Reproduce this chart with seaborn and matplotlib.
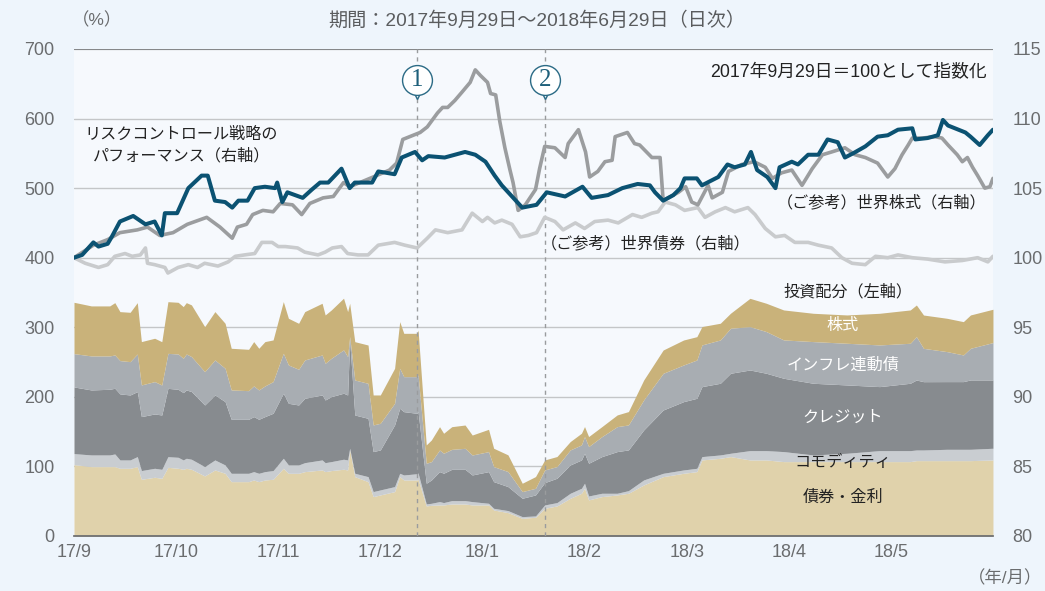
import matplotlib
matplotlib.use("Agg")
import matplotlib.pyplot as plt
import seaborn as sns

# x positions are in months after 2017-09-29 (0 = 17/9 tick, 9 = end of data)
strat_x = [0.00, 0.08, 0.19, 0.24, 0.33, 0.37, 0.45, 0.58, 0.70, 0.79, 0.86, 0.89, 1.01, 1.12, 1.25,
           1.31, 1.38, 1.48, 1.55, 1.61, 1.70, 1.77, 1.87, 1.97, 1.99, 2.04, 2.09, 2.24, 2.33, 2.41,
           2.49, 2.62, 2.70, 2.75, 2.85, 2.92, 2.98, 3.14, 3.21, 3.34, 3.41, 3.47, 3.63, 3.83, 3.93,
           4.03, 4.12, 4.19, 4.39, 4.53, 4.63, 4.81, 4.98, 5.07, 5.23, 5.37, 5.52, 5.64, 5.69, 5.77,
           5.87, 5.94, 5.98, 6.10, 6.15, 6.31, 6.40, 6.47, 6.57, 6.63, 6.69, 6.79, 6.87, 6.91, 7.03,
           7.09, 7.19, 7.29, 7.38, 7.48, 7.55, 7.63, 7.75, 7.87, 7.97, 8.07, 8.21, 8.24, 8.36, 8.46,
           8.51, 8.56, 8.73, 8.78, 8.87, 8.95, 9.00]
strat_y = [100.0, 100.2, 101.1, 100.8, 101.0, 101.5, 102.6, 103.0, 102.4, 102.6, 101.6, 103.2, 103.2, 105.0, 105.9,
           105.9, 104.1, 104.0, 103.6, 104.1, 104.1, 105.0, 105.1, 105.0, 105.4, 104.0, 104.7, 104.3, 104.9, 105.4,
           105.4, 106.4, 105.0, 105.4, 105.4, 105.4, 106.2, 106.0, 107.2, 107.6, 107.0, 107.3, 107.2, 107.6, 107.4,
           106.9, 105.9, 105.2, 103.6, 103.8, 104.7, 104.4, 105.1, 104.3, 104.5, 105.0, 105.3, 105.2, 104.7, 104.1,
           104.5, 105.0, 105.7, 105.7, 105.2, 105.8, 106.7, 106.5, 106.7, 107.6, 106.3, 105.8, 105.0, 106.5, 106.9,
           106.7, 107.4, 107.4, 108.5, 108.3, 107.2, 107.5, 108.0, 108.7, 108.8, 109.2, 109.3, 108.5, 108.6, 108.8,
           109.9, 109.5, 109.0, 108.7, 108.1, 108.8, 109.2]

stock_x = [0.00, 0.19, 0.33, 0.45, 0.62, 0.72, 0.84, 0.97, 1.11, 1.30, 1.43, 1.55, 1.60, 1.69, 1.75,
           1.85, 1.95, 2.02, 2.14, 2.23, 2.31, 2.44, 2.54, 2.64, 2.70, 2.80, 2.93, 3.09, 3.16, 3.22,
           3.39, 3.46, 3.56, 3.61, 3.66, 3.73, 3.80, 3.88, 3.93, 3.98, 4.05, 4.08, 4.13, 4.17, 4.22,
           4.27, 4.30, 4.35, 4.42, 4.52, 4.56, 4.61, 4.71, 4.81, 4.84, 4.94, 5.01, 5.05, 5.13, 5.20,
           5.27, 5.30, 5.42, 5.49, 5.54, 5.66, 5.74, 5.77, 5.92, 5.99, 6.05, 6.11, 6.21, 6.25, 6.35,
           6.41, 6.54, 6.66, 6.77, 6.84, 6.93, 7.03, 7.13, 7.23, 7.33, 7.42, 7.55, 7.65, 7.75, 7.87,
           7.97, 8.04, 8.11, 8.17, 8.21, 8.31, 8.43, 8.50, 8.56, 8.65, 8.70, 8.75, 8.80, 8.85, 8.92,
           8.97, 9.00]
stock_y = [100.0, 100.9, 101.3, 101.8, 102.0, 102.2, 101.6, 101.8, 102.4, 102.9, 102.2, 101.4, 102.2, 102.4, 103.1,
           103.4, 103.3, 103.9, 103.8, 103.1, 103.9, 104.3, 104.4, 105.4, 105.1, 105.4, 105.8, 106.3, 106.8, 108.5,
           109.0, 109.4, 110.4, 110.8, 110.8, 111.3, 111.9, 112.6, 113.5, 113.1, 112.6, 111.8, 111.7, 109.8, 107.9,
           106.3, 105.4, 103.4, 103.8, 104.9, 106.4, 108.0, 107.9, 107.2, 108.2, 109.2, 107.6, 105.8, 106.2, 106.9,
           107.0, 108.7, 109.0, 108.2, 108.1, 107.2, 107.2, 104.1, 104.7, 105.1, 104.0, 103.8, 105.2, 104.3, 104.7,
           106.2, 106.7, 106.9, 106.5, 105.7, 106.1, 106.3, 105.2, 106.4, 107.4, 107.6, 107.9, 107.4, 107.2, 106.8,
           105.8, 106.4, 107.4, 108.1, 108.6, 108.6, 108.7, 108.6, 108.1, 107.4, 106.9, 107.2, 106.5, 105.9, 105.0,
           105.1, 105.7]

bond_x = [0.00, 0.11, 0.24, 0.33, 0.40, 0.50, 0.57, 0.65, 0.70, 0.72, 0.79, 0.89, 0.92, 1.02, 1.12,
          1.21, 1.28, 1.41, 1.51, 1.58, 1.67, 1.77, 1.84, 1.94, 2.00, 2.07, 2.19, 2.26, 2.39, 2.46,
          2.53, 2.62, 2.68, 2.78, 2.88, 2.98, 3.14, 3.24, 3.36, 3.46, 3.54, 3.66, 3.80, 3.90, 4.00,
          4.05, 4.12, 4.19, 4.29, 4.37, 4.45, 4.53, 4.61, 4.71, 4.79, 4.91, 5.00, 5.10, 5.23, 5.33,
          5.47, 5.56, 5.66, 5.72, 5.79, 5.89, 5.98, 6.11, 6.18, 6.28, 6.38, 6.47, 6.60, 6.67, 6.77,
          6.87, 6.96, 7.06, 7.19, 7.29, 7.42, 7.52, 7.62, 7.75, 7.85, 7.97, 8.07, 8.21, 8.36, 8.53,
          8.70, 8.85, 8.95, 9.00]
bond_y = [100.0, 99.6, 99.3, 99.5, 100.1, 100.3, 100.1, 100.2, 100.7, 99.6, 99.5, 99.3, 98.9, 99.3, 99.5,
          99.3, 99.6, 99.4, 99.7, 100.1, 100.2, 100.3, 101.1, 101.1, 100.8, 100.8, 100.7, 100.4, 100.2, 100.4,
          100.7, 100.8, 100.3, 100.2, 100.2, 100.9, 101.1, 100.9, 100.7, 101.4, 102.0, 101.8, 102.0, 103.2, 102.6,
          102.9, 102.5, 102.7, 102.4, 101.5, 101.6, 101.8, 102.9, 102.6, 102.0, 102.5, 102.1, 102.6, 102.7, 102.5,
          103.1, 102.9, 103.2, 103.3, 104.0, 103.8, 103.4, 103.6, 102.9, 103.3, 103.6, 103.3, 103.6, 103.1, 102.1,
          101.5, 101.6, 101.1, 101.1, 100.9, 100.7, 100.0, 99.6, 99.5, 100.1, 100.0, 100.2, 100.0, 99.9, 99.7,
          99.8, 100.0, 99.7, 100.1]

# allocation (%), left axis, stacked bottom to top
alloc_x = [0.00, 0.17, 0.35, 0.40, 0.45, 0.55, 0.62, 0.66, 0.79, 0.86, 0.92, 1.02, 1.07, 1.10, 1.15, 1.28, 1.38,
           1.48, 1.54, 1.71, 1.76, 1.81, 1.87, 1.95, 2.05, 2.10, 2.20, 2.26, 2.43, 2.46, 2.52, 2.64, 2.68,
           2.70, 2.75, 2.88, 2.93, 3.00, 3.14, 3.19, 3.23, 3.36, 3.37, 3.45, 3.50, 3.58, 3.62, 3.70, 3.83,
           3.90, 4.06, 4.11, 4.25, 4.39, 4.52, 4.61, 4.73, 4.86, 4.97, 5.00, 5.04, 5.17, 5.32, 5.43, 5.58,
           5.77, 5.97, 6.10, 6.15, 6.33, 6.43, 6.62, 6.78, 6.95, 7.24, 7.57, 7.89, 8.19, 8.25, 8.32, 8.55,
           8.71, 8.78, 9.00]
alloc_bond = [102.6, 99.7, 99.7, 99.7, 97.3, 97.3, 99.7, 81.5, 84.4, 82.9, 98.7, 97.3, 95.9, 97.3, 95.9, 86.3, 94.9,
              90.1, 78.1, 78.1, 80.5, 78.1, 80.5, 81.5, 97.3, 90.1, 90.1, 92.5, 94.9, 92.5, 94.0, 95.9, 94.9,
              123.7, 85.3, 78.1, 56.6, 59.0, 63.8, 85.3, 80.5, 80.5, 81.5, 43.2, 44.1, 44.6, 44.6, 46.0, 46.0,
              44.6, 44.6, 37.4, 33.6, 25.4, 26.9, 39.8, 43.2, 54.2, 61.4, 68.6, 51.8, 56.6, 59.0, 61.4, 73.4,
              85.3, 90.1, 92.5, 109.3, 111.7, 114.1, 109.3, 109.3, 106.9, 106.9, 106.9, 106.9, 106.9, 108.3, 108.3, 108.3,
              108.3, 108.3, 109.3]
alloc_comm = [15.8, 16.8, 16.8, 18.2, 12.0, 12.0, 14.4, 12.5, 12.9, 12.9, 15.3, 15.8, 13.4, 14.4, 14.4, 13.4, 14.4,
              12.0, 12.0, 12.0, 12.0, 12.0, 12.0, 12.5, 14.4, 12.0, 12.0, 12.9, 14.4, 12.9, 12.9, 14.4, 14.4,
              2.4, 4.8, 7.2, 7.2, 7.2, 7.2, 4.8, 7.2, 9.0, 9.0, 2.9, 2.9, 4.8, 3.4, 4.8, 4.8,
              4.8, 2.4, 2.4, 2.9, 2.4, 1.9, 4.8, 4.8, 7.2, 7.2, 7.2, 5.7, 4.8, 2.4, 3.8, 7.2,
              4.8, 4.8, 4.8, 4.8, 4.8, 4.8, 13.4, 13.4, 14.4, 9.6, 12.0, 15.8, 15.8, 15.3, 15.3, 16.3,
              16.3, 16.3, 16.8]
alloc_credit = [95.8, 93.4, 94.4, 94.4, 94.9, 93.4, 93.4, 77.6, 78.1, 78.1, 98.2, 97.7, 96.8, 98.2, 97.3, 88.6, 93.4,
                91.0, 77.6, 77.6, 79.1, 77.6, 79.1, 82.4, 93.4, 88.6, 86.2, 92.5, 93.4, 90.1, 93.4, 94.9, 93.4,
                155.7, 83.8, 83.8, 57.5, 57.5, 88.6, 93.4, 91.0, 86.8, 88.2, 29.7, 33.5, 43.1, 42.2, 45.0, 45.0,
                38.3, 45.5, 38.3, 34.5, 26.4, 30.2, 32.1, 35.0, 40.7, 40.7, 43.1, 47.0, 52.7, 59.9, 58.5, 71.9,
                91.0, 98.2, 100.6, 100.6, 103.0, 115.0, 115.9, 111.2, 105.4, 103.0, 98.2, 92.0, 96.8, 100.6, 98.2, 97.3,
                97.3, 99.7, 98.2]
alloc_infl = [47.9, 48.9, 47.9, 47.9, 47.9, 47.9, 54.1, 45.5, 46.5, 43.1, 50.3, 50.8, 49.3, 51.7, 50.3, 47.9, 50.3,
              47.9, 42.2, 41.2, 44.1, 42.2, 44.1, 45.5, 57.5, 55.1, 51.3, 55.1, 57.5, 52.7, 55.1, 62.3, 55.1,
              4.8, 50.3, 50.3, 38.3, 38.3, 31.1, 57.5, 50.3, 52.7, 52.7, 28.7, 26.4, 31.1, 28.7, 28.7, 30.2,
              28.7, 28.7, 21.6, 21.6, 9.6, 9.6, 18.2, 16.8, 21.6, 21.6, 24.0, 24.0, 28.7, 35.9, 35.9, 43.1,
              52.7, 52.7, 55.1, 59.9, 62.3, 64.7, 62.3, 59.9, 55.1, 59.9, 59.9, 59.9, 57.5, 62.3, 47.9, 43.1,
              38.3, 45.5, 53.7]
alloc_equity = [73.8, 71.9, 71.9, 75.2, 70.4, 70.9, 73.8, 62.3, 62.3, 62.3, 74.3, 74.3, 74.3, 73.8, 74.3, 64.7, 69.5,
                64.7, 59.9, 59.4, 63.7, 59.9, 63.7, 59.9, 74.3, 67.1, 66.1, 69.5, 74.3, 69.5, 69.5, 74.3, 64.7,
                47.9, 55.1, 55.1, 43.1, 40.7, 50.3, 67.1, 62.3, 62.3, 64.7, 26.4, 31.1, 33.5, 28.7, 32.6, 33.5,
                28.7, 32.1, 26.4, 24.0, 12.0, 16.8, 14.4, 14.4, 12.0, 16.8, 14.4, 14.4, 14.4, 16.8, 19.2, 28.7,
                33.5, 35.9, 33.5, 26.4, 24.0, 21.6, 40.7, 40.7, 43.1, 40.7, 40.7, 45.5, 47.9, 45.5, 47.9, 47.9,
                47.9, 47.9, 47.9]

month_labels = ["17/9", "17/10", "17/11", "17/12", "18/1", "18/2", "18/3", "18/4", "18/5"]
events = [(3.36, "1"), (4.61, "2")]

sns.set_theme(style="white")
# latin glyphs from Liberation Sans, Japanese falls back to Noto
plt.rcParams["font.family"] = ["Liberation Sans", "Noto Sans CJK JP"]

fig = plt.figure(figsize=(10.45, 5.91), dpi=100, facecolor="#eef5fc")
ax = fig.add_axes([0.0708, 0.0931, 0.8794, 0.824])
ax.set_facecolor("#f6f9fd")

ax.stackplot(alloc_x, alloc_bond, alloc_comm, alloc_credit, alloc_infl, alloc_equity,
             colors=["#e0d2ab", "#c9cdd1", "#878b8f", "#a8adb2", "#c9b27a"],
             linewidth=0, zorder=2)

ax.set_xlim(0, 9)
ax.set_ylim(0, 700)
ax.set_yticks(range(0, 701, 100))
ax.set_xticks(range(9))
ax.set_xticklabels(month_labels)
ax.yaxis.grid(True, color="#c4c6c8", lw=1)
ax.set_axisbelow(True)
ax.axhline(700, color="#7a7c7e", lw=1.2, zorder=1)
for s in ["top", "left", "right"]:
    ax.spines[s].set_visible(False)
ax.spines["bottom"].set_color("#6a6c6e")
ax.tick_params(axis="x", direction="in", length=6, color="#6a6c6e", labelsize=13,
               labelcolor="#6a6c6e", pad=6)
ax.tick_params(axis="y", length=0, labelsize=13, labelcolor="#6a6c6e", pad=14)

# event markers (pins)
for ex, num in events:
    ax.axvline(ex, color="#9a9c9e", lw=1, ls=(0, (3, 3)), zorder=3)
    ax.plot(ex, 640, marker="v", ms=11, mfc="white", mec="#2a6a85", mew=1, zorder=6)
    ax.plot(ex, 655, marker="o", ms=21.5, mfc="white", mec="#2a6a85", mew=1, zorder=7)
    ax.plot(ex, 648, marker="s", ms=6, mfc="white", mec="none", zorder=7)
    ax.text(ex, 655, num, ha="center", va="center", fontsize=18, color="#1d5f7a",
            family=["Liberation Serif"], zorder=8)

ax2 = ax.twinx()
ax2.set_position(ax.get_position())
sns.lineplot(x=bond_x, y=bond_y, ax=ax2, color="#c9cbcd", lw=2.6, estimator=None, sort=False)
sns.lineplot(x=stock_x, y=stock_y, ax=ax2, color="#9b9d9f", lw=2.6, estimator=None, sort=False)
sns.lineplot(x=strat_x, y=strat_y, ax=ax2, color="#0b5272", lw=2.9, estimator=None, sort=False)
ax2.set_ylim(80, 115)
ax2.set_yticks(range(80, 116, 5))
ax2.set_xlim(0, 9)
for s in ax2.spines.values():
    s.set_visible(False)
ax2.tick_params(axis="y", length=0, labelsize=13, labelcolor="#6a6c6e", pad=14)
ax2.set_xlabel("")
ax2.set_ylabel("")

tc = "#222222"
fs = 11.6
ax.text(1.05, 562, "リスクコントロール戦略の\nパフォーマンス（右軸）", ha="center", va="center",
        fontsize=fs, color=tc, linespacing=1.45, zorder=8)
ax.text(7.91, 479, "（ご参考）世界株式（右軸）", ha="center", va="center", fontsize=fs, color=tc, zorder=8)
ax.text(5.60, 420, "（ご参考）世界債券（右軸）", ha="center", va="center", fontsize=fs, color=tc, zorder=8)
ax.text(7.58, 351, "投資配分（左軸）", ha="center", va="center", fontsize=fs, color=tc, zorder=8)
ax.text(7.53, 302, "株式", ha="center", va="center", fontsize=fs, color="white", zorder=8)
ax.text(7.53, 246, "インフレ連動債", ha="center", va="center", fontsize=fs, color="white", zorder=8)
ax.text(7.53, 170, "クレジット", ha="center", va="center", fontsize=fs, color="white", zorder=8)
ax.text(7.53, 105, "コモディティ", ha="center", va="center", fontsize=fs, color=tc, zorder=8)
ax.text(7.53, 56, "債券・金利", ha="center", va="center", fontsize=fs, color=tc, zorder=8)
ax.text(8.94, 666, "2017年9月29日＝100として指数化", ha="right", va="center", fontsize=12.8,
        color=tc, zorder=8)

fig.text(0.514, 0.966, "期間：2017年9月29日～2018年6月29日（日次）", ha="center", va="center",
         fontsize=13.8, color="#5a5c5e")
fig.text(0.093, 0.966, "（%）", ha="center", va="center", fontsize=12.5, color="#6a6c6e")
fig.text(0.962, 0.022, "（年/月）", ha="center", va="center", fontsize=12.5, color="#6a6c6e")

fig.savefig("out.png", dpi=100, facecolor=fig.get_facecolor())
